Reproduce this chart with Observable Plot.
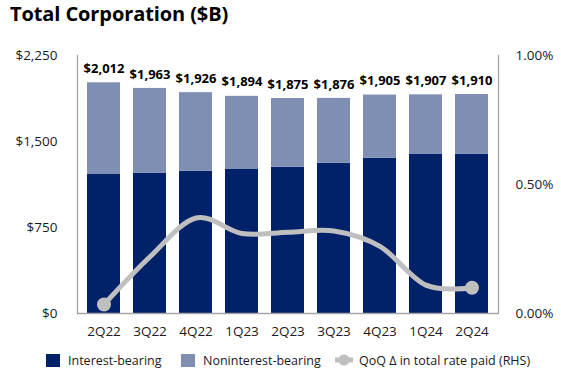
<!DOCTYPE html>
<html>
<head>
<meta charset="utf-8">
<script src="https://cdn.jsdelivr.net/npm/d3@7"></script>
<script src="https://cdn.jsdelivr.net/npm/@observablehq/plot@0.6"></script>
<style>
  html, body { margin: 0; padding: 0; background: #fff; }
  body { width: 561px; height: 372px; position: relative; overflow: hidden; font-family: "Open Sans", sans-serif; color: #1a1a1a; }
  #title { position: absolute; left: 10px; top: 0px; font-size: 20px; font-weight: 700; color: #000; line-height: 27.5px; letter-spacing: -0.1px; }
  #chart { position: absolute; left: 0; top: 30px; }
  #legend { position: absolute; top: 350px; left: 0; width: 561px; height: 20px; font-size: 12.5px; }
  .item { position: absolute; top: 0; display: flex; align-items: center; height: 20px; white-space: nowrap; }
  .sw { width: 14px; height: 13px; margin-right: 8px; }
</style>
</head>
<body>
<div id="title">Total Corporation ($B)</div>
<div id="chart"></div>
<div id="legend">
  <div class="item" style="left:46px"><span class="sw" style="background:#012169"></span><span>Interest-bearing</span></div>
  <div class="item" style="left:181px"><span class="sw" style="background:#7F8FB4"></span><span>Noninterest-bearing</span></div>
  <div class="item" style="left:334px">
    <svg width="20" height="14" style="margin-right:5px"><line x1="1" y1="7" x2="19" y2="7" stroke="#BFBFBF" stroke-width="5"/><circle cx="10" cy="7" r="5.5" fill="#BFBFBF"/></svg>
    <span>QoQ Δ in total rate paid (RHS)</span></div>
</div>
<script>
const quarters = ["2Q22", "3Q22", "4Q22", "1Q23", "2Q23", "3Q23", "4Q23", "1Q24", "2Q24"];
const interestBearing = [1212, 1224, 1241, 1256, 1276, 1311, 1354, 1387, 1390];
const nonInterestBearing = [800, 739, 685, 638, 599, 565, 551, 520, 520];
const totals = [2012, 1963, 1926, 1894, 1875, 1876, 1905, 1907, 1910];
const totalLabels = ["$2,012", "$1,963", "$1,926", "$1,894", "$1,875", "$1,876", "$1,905", "$1,907", "$1,910"];
const rateChange = [0.035, 0.22, 0.37, 0.31, 0.315, 0.32, 0.26, 0.11, 0.10]; // percent, RHS
const leftTicks = [0, 750, 1500, 2250];
const leftTickLabels = ["$0", "$750", "$1,500", "$2,250"];
const rightTicks = [0, 0.5, 1.0];
const rightTickLabels = ["0.00%", "0.50%", "1.00%"];

const leftMax = 2250, rightMax = 1.0;
const toLeft = v => v / rightMax * leftMax;

const bars = [];
quarters.forEach((q, i) => {
  bars.push({q, type: "Interest-bearing", value: interestBearing[i]});
  bars.push({q, type: "Noninterest-bearing", value: nonInterestBearing[i]});
});
const pts = quarters.map((q, i) => ({q, r: rateChange[i], total: totals[i], label: totalLabels[i]}));
const ends = [pts[0], pts[pts.length - 1]];

const axisColor = "#A6A6A6";
const chart = Plot.plot({
  width: 561,
  height: 315,
  marginLeft: 77,
  marginRight: 63,
  marginTop: 25,
  marginBottom: 32,
  style: {fontFamily: "Open Sans, sans-serif", fontSize: "13.5px", color: "#1a1a1a", background: "white"},
  x: {domain: quarters, paddingInner: 0.29, paddingOuter: 0.15, tickSize: 0, tickPadding: 13, label: null},
  y: {domain: [0, leftMax], axis: null},
  color: {domain: ["Interest-bearing", "Noninterest-bearing"], range: ["#012169", "#7F8FB4"]},
  marks: [
    Plot.barY(bars, {x: "q", y: "value", fill: "type", order: ["Interest-bearing", "Noninterest-bearing"]}),
    Plot.ruleY([0], {stroke: axisColor, strokeWidth: 1.3}),
    Plot.frame({anchor: "left", stroke: axisColor, strokeWidth: 1.3}),
    Plot.frame({anchor: "right", stroke: axisColor, strokeWidth: 1.3}),
    Plot.axisY({anchor: "left", ticks: leftTicks, tickFormat: d => leftTickLabels[leftTicks.indexOf(d)], tickSize: 0, tickPadding: 20, label: null, fontSize: 13.5}),
    Plot.axisY({anchor: "right", ticks: rightTicks.map(toLeft), tickFormat: d => rightTickLabels[rightTicks.map(toLeft).indexOf(d)], tickSize: 0, tickPadding: 17, label: null, fontSize: 13.5}),
    Plot.text(pts, {x: "q", y: "total", text: "label", dy: -14, fontWeight: 700, fontSize: 13, fill: "#000"}),
    Plot.line(pts, {x: "q", y: d => toLeft(d.r), curve: "cardinal", stroke: "#BFBFBF", strokeWidth: 5}),
    Plot.dot(ends, {x: "q", y: d => toLeft(d.r), r: 7, fill: "#BFBFBF"})
  ]
});
document.getElementById("chart").appendChild(chart);
</script>
</body>
</html>
